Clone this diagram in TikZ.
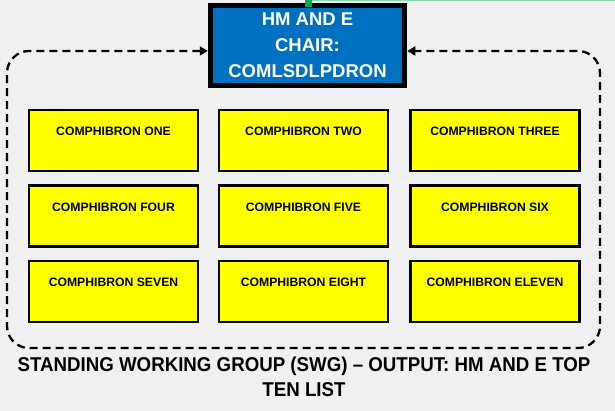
\documentclass[tikz,border=0pt]{standalone}
\usepackage{fontspec}
\setmainfont{Liberation Sans}
\newfontfamily\bottomfont[FakeStretch=0.935]{Liberation Sans Bold}
\usetikzlibrary{arrows.meta}
\definecolor{bgc}{RGB}{240,240,240}
\definecolor{chairblue}{RGB}{0,112,192}
\definecolor{boxyellow}{RGB}{255,255,0}
\definecolor{lightgreen}{RGB}{140,215,170}
\definecolor{darkgreen}{RGB}{0,170,80}
\tikzset{
  chairbox/.style={draw=black, line width=5pt, fill=chairblue, text=white,
    minimum width=194.5pt, minimum height=80.5pt, inner sep=0pt, align=center,
    font=\fontsize{18.5}{26}\selectfont\bfseries},
  unitbox/.style={draw=black, line width=2.5pt, fill=boxyellow, text=black,
    minimum width=169pt, inner sep=0pt, text height=26pt, text depth=35pt,
    font=\fontsize{12.2}{14}\selectfont\bfseries},
  looparrow/.style={draw=black, line width=2.3pt, dash pattern=on 8pt off 5pt,
    rounded corners=22pt, {Triangle[length=8pt,width=9pt]}-{Triangle[length=8pt,width=9pt]}},
  caption/.style={align=center, text=black, inner sep=0pt,
    font=\bottomfont\fontsize{20}{25}\selectfont}
}
\begin{document}
\begin{tikzpicture}[x=1pt,y=-1pt]
  \useasboundingbox (0,0) rectangle (615,411);
  \fill[bgc] (0,0) rectangle (615,411);
  % top green line
  \fill[lightgreen] (310,0) rectangle (615,1.5);
  % units
  \node[unitbox] (u1) at (113.5,140.5) {COMPHIBRON ONE};
  \node[unitbox] (u2) at (303.5,140.5) {COMPHIBRON TWO};
  \node[unitbox] (u3) at (495,140.5) {COMPHIBRON THREE};
  \node[unitbox] (u4) at (113.5,216) {COMPHIBRON FOUR};
  \node[unitbox] (u5) at (303.5,216) {COMPHIBRON FIVE};
  \node[unitbox] (u6) at (495,216) {COMPHIBRON SIX};
  \node[unitbox] (u7) at (113.5,291.5) {COMPHIBRON SEVEN};
  \node[unitbox] (u8) at (303.5,291.5) {COMPHIBRON EIGHT};
  \node[unitbox] (u9) at (495,291.5) {COMPHIBRON ELEVEN};
  % chair
  \node[chairbox] (chair) at (307.5,45.5) {HM AND E\\CHAIR:\\COMLSDLPDRON};
  \fill[darkgreen] (305,0) rectangle (312,7);
  % loop connector
  \coordinate (tl) at (7,51);
  \coordinate (bl) at (7,348);
  \coordinate (br) at (600,348);
  \coordinate (tr) at (600,51);
  \draw[looparrow] ([yshift=-5.5pt]chair.west) -- (tl) -- (bl) -- (br) -- (tr) -- ([yshift=-5.5pt]chair.east);
  % caption
  \node[caption] (cap) at (304,376.5) {STANDING WORKING GROUP (SWG) – OUTPUT: HM AND E TOP\\TEN LIST};
\end{tikzpicture}
\end{document}
